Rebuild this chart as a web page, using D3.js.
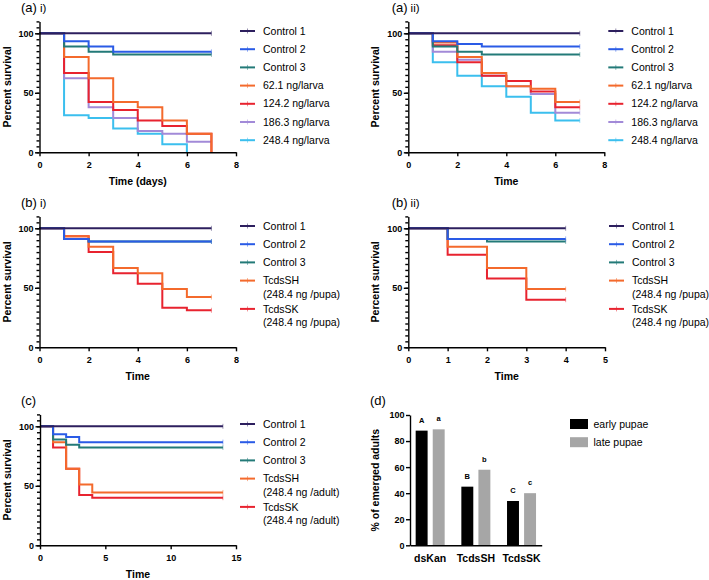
<!DOCTYPE html>
<html><head><meta charset="utf-8">
<script src="https://cdn.jsdelivr.net/npm/d3@7"></script>
<style>
body{margin:0;background:#fff}
svg{display:block}
text{font-family:"Liberation Sans",Arial,Helvetica,sans-serif;fill:#000}
</style>
</head><body>
<svg id="chart" width="709" height="580"></svg>
<script>
// ---------- DATA ----------
const larvaColors = ["#2d1f5e","#2a5be6","#237a78","#f46a2c","#e8232f","#a28ad8","#3bbfee"];
const pupaColors  = ["#2d1f5e","#2a5be6","#237a78","#f46a2c","#e8232f"];

const larvaLabels = ["Control 1","Control 2","Control 3","62.1 ng/larva","124.2 ng/larva","186.3 ng/larva","248.4 ng/larva"];
const pupaLabels  = ["Control 1","Control 2","Control 3",["TcdsSH","(248.4 ng /pupa)"],["TcdsSK","(248.4 ng /pupa)"]];
const adultLabels = ["Control 1","Control 2","Control 3",["TcdsSH","(248.4 ng /adult)"],["TcdsSK","(248.4 ng /adult)"]];

// (a) i)
const aiTimes = [0,1,2,3,4,5,6,7];
const aiControl1 = [100,100,100,100,100,100,100,100];
const aiControl2 = [100,93.3,88.9,84.4,84.4,84.4,84.4,84.4];
const aiControl3 = [100,88.9,84.4,82.2,82.2,82.2,82.2,82.2];
const ai62  = [100,80,62.2,42.2,37.8,26.7,15.6,0];
const ai124 = [100,66.7,42.2,35.6,26.7,22.2,15.6,0];
const ai186 = [100,62.2,37.8,28.9,17.8,15.6,8.9,8.9];
const ai248 = [100,31.1,28.9,20,15.6,6.7,0];

// (a) ii)
const aiiTimes = [0,1,2,3,4,5,6,7];
const aiiControl1 = [100,100,100,100,100,100,100,100];
const aiiControl2 = [100,93.3,91.1,88.9,88.9,88.9,88.9,88.9];
const aiiControl3 = [100,88.9,84.4,82.2,82.2,82.2,82.2,82.2];
const aii62  = [100,92.2,80,66.7,55.6,53.3,42.2,42.2];
const aii124 = [100,90,75.6,64.4,60,51.1,37.8,37.8];
const aii186 = [100,84.4,77.8,64.4,55.6,48.9,33.3,33.3];
const aii248 = [100,75.6,64.4,55.6,46.7,33.3,26.7,26.7];

// (b) i)
const biTimes = [0,1,2,3,4,5,6,7];
const biControl1 = [100,100,100,100,100,100,100,100];
const biControl2 = [100,91.1,88.9,88.9,88.9,88.9,88.9,88.9];
const biControl3 = [100,91.1,88.9,88.9,88.9,88.9,88.9,88.9];
const biSH = [100,93.3,84.4,66.7,62.2,48.9,42.2,42.2];
const biSK = [100,93.3,80,62.2,53.3,33.3,31.1,31.1];

// (b) ii)
const biiTimes = [0,1,2,3,4];
const biiControl1 = [100,100,100,100,100];
const biiControl2 = [100,91.1,91.1,91.1,91.1];
const biiControl3 = [100,91.1,88.9,88.9,88.9];
const biiSH = [100,84.4,66.7,48.9,48.9];
const biiSK = [100,77.8,57.8,40,40];

// (c)
const cTimes = [0,1,2,3,4,14];
const cControl1 = [100,100,100,100,100,100];
const cControl2 = [100,93.3,91.1,86.7,86.7,86.7];
const cControl3 = [100,88.9,84.4,82.2,82.2,82.2];
const cSH = [100,86.7,64.4,51.1,44.4,44.4];
const cSK = [100,82.2,64.4,42.2,40,40];

// (d)
const dCategories = ["dsKan","TcdsSH","TcdsSK"];
const dStages = ["early pupae","late pupae"];
const dEarly = [88,45,34];
const dLate  = [89,58,40];
const dEarlyLetters = ["A","B","C"];
const dLateLetters  = ["a","b","c"];
const dColors = ["#000000","#a6a6a6"];

// ---------- DRAW ----------
const svg = d3.select("#chart");
const FONT_TICK = 9, FONT_TITLE = 10.5, FONT_LEG = 10.5;

function panelLabel(x, y, main, sub){
  const t = svg.append("text").attr("x", x).attr("y", y).style("font-size","13px");
  t.append("tspan").text(main);
  if (sub) t.append("tspan").attr("dx", 3).style("font-size","11.5px").text(sub);
}

function drawKM(p){
  const g = svg.append("g");
  const x = d3.scaleLinear().domain([0, p.xMax]).range([p.left, p.right]);
  const k = (p.bottom - p.y100) / 100;
  const y = d3.scaleLinear().domain([0, 110]).range([p.bottom, p.bottom - 110 * k]);

  // series (reverse order so first series on top)
  const line = d3.line().x(d => x(d[0])).y(d => y(d[1])).curve(d3.curveStepAfter);
  for (let s = p.series.length - 1; s >= 0; s--){
    const vals = p.series[s];
    const pts = vals.map((v, i) => [p.times[i], v]);
    g.append("path").attr("d", line(pts)).attr("fill","none")
      .attr("stroke", p.colors[s]).attr("stroke-width", 2).attr("stroke-linejoin","miter");
    const last = pts[pts.length - 1];
    if (last[1] > 0){
      g.append("line").attr("x1", x(last[0])).attr("x2", x(last[0]))
        .attr("y1", y(last[1]) - 2.5).attr("y2", y(last[1]) + 2.5)
        .attr("stroke", p.colors[s]).attr("stroke-opacity", 0.45).attr("stroke-width", 1);
    }
  }

  // axes
  const yMinor = g.append("g").attr("transform", `translate(${p.left},0)`)
    .call(d3.axisLeft(y).tickValues(d3.range(0, 111, 5)).tickSize(3).tickFormat(""));
  yMinor.select(".domain").remove();
  const yAx = g.append("g").attr("transform", `translate(${p.left},0)`)
    .call(d3.axisLeft(y).tickValues([0,50,100]).tickSize(4.5).tickSizeOuter(0).tickPadding(1.5));
  const xAx = g.append("g").attr("transform", `translate(0,${p.bottom})`)
    .call(d3.axisBottom(x).tickValues(p.xTicks).tickFormat(d3.format("d")).tickSize(4).tickSizeOuter(0).tickPadding(5));
  [yMinor, yAx, xAx].forEach(a => {
    a.selectAll("path,line").attr("stroke","#000").attr("stroke-width",1.4);
    a.selectAll("text").style("font-size", FONT_TICK + "px").style("font-weight","bold")
      .style("font-family", '"Liberation Sans",Arial,sans-serif').attr("fill","#000");
  });

  // titles
  g.append("text").attr("x", (p.left + p.right) / 2).attr("y", p.bottom + 29.4)
    .attr("dy","0.35em").attr("text-anchor","middle")
    .style("font-size", FONT_TITLE + "px").style("font-weight","bold").text(p.xTitle);
  g.append("text").attr("transform", `translate(${p.left - 32.5},${(y(0) + y(110)) / 2}) rotate(-90)`)
    .attr("dy","0.35em").attr("text-anchor","middle")
    .style("font-size", FONT_TITLE + "px").style("font-weight","bold").text("Percent survival");

  // legend
  let ly = p.legendTop, prevLines = 0;
  p.labels.forEach((lab, i) => {
    const lines = Array.isArray(lab) ? lab : [lab];
    if (i > 0) ly += prevLines > 1 ? (prevLines - 1) * 13.3 + 15 : 18.2;
    const lx = p.right + 4;
    g.append("line").attr("x1", lx).attr("x2", lx + 15).attr("y1", ly).attr("y2", ly)
      .attr("stroke", p.colors[i]).attr("stroke-width", 2);
    g.append("line").attr("x1", lx + 7.5).attr("x2", lx + 7.5).attr("y1", ly - 2.5).attr("y2", ly + 2.5)
      .attr("stroke", p.colors[i]).attr("stroke-opacity", 0.5).attr("stroke-width", 1);
    lines.forEach((t, j) => {
      g.append("text").attr("x", p.right + 27).attr("y", ly + j * 13.3).attr("dy","0.35em")
        .style("font-size", FONT_LEG + "px").text(t);
    });
    prevLines = lines.length;
  });
}

drawKM({left:39.5, right:236, bottom:152.3, y100:33.3, xMax:8, xTicks:[0,2,4,6,8],
  times: aiTimes, series:[aiControl1,aiControl2,aiControl3,ai62,ai124,ai186,ai248],
  colors: larvaColors, labels: larvaLabels, legendTop:31, xTitle:"Time (days)"});
drawKM({left:408.3, right:604.3, bottom:152.3, y100:33.3, xMax:8, xTicks:[0,2,4,6,8],
  times: aiiTimes, series:[aiiControl1,aiiControl2,aiiControl3,aii62,aii124,aii186,aii248],
  colors: larvaColors, labels: larvaLabels, legendTop:31, xTitle:"Time"});
drawKM({left:39.5, right:236, bottom:347.3, y100:228.3, xMax:8, xTicks:[0,2,4,6,8],
  times: biTimes, series:[biControl1,biControl2,biControl3,biSH,biSK],
  colors: pupaColors, labels: pupaLabels, legendTop:226, xTitle:"Time"});
drawKM({left:408.3, right:605, bottom:347.3, y100:228.3, xMax:5, xTicks:[0,1,2,3,4,5],
  times: biiTimes, series:[biiControl1,biiControl2,biiControl3,biiSH,biiSK],
  colors: pupaColors, labels: pupaLabels, legendTop:226, xTitle:"Time"});
drawKM({left:40, right:236, bottom:545.3, y100:426.3, xMax:15, xTicks:[0,5,10,15],
  times: cTimes, series:[cControl1,cControl2,cControl3,cSH,cSK],
  colors: pupaColors, labels: adultLabels, legendTop:424, xTitle:"Time"});

// panel labels
panelLabel(21, 11.5, "(a)", "i)");
panelLabel(391.7, 11.5, "(a)", "ii)");
panelLabel(21, 206.5, "(b)", "i)");
panelLabel(391.7, 206.5, "(b)", "ii)");
panelLabel(21, 404.5, "(c)");
panelLabel(370, 404.5, "(d)");

// (d) bar chart
(function(){
  const g = svg.append("g");
  const left = 410, right = 541.7, bottom = 545.3, top = 415;
  const x0 = d3.scaleBand().domain(dCategories).range([left, right]).paddingInner(0.365).paddingOuter(0.124);
  const x1 = d3.scaleBand().domain(dStages).range([0, x0.bandwidth()]).paddingInner(0.3);
  const y = d3.scaleLinear().domain([0, 100]).range([bottom, top]);
  const rows = dCategories.map((c, i) => ({c, vals:[dEarly[i], dLate[i]], letters:[dEarlyLetters[i], dLateLetters[i]]}));
  rows.forEach(r => {
    dStages.forEach((s, j) => {
      const bx = x0(r.c) + x1(s);
      g.append("rect").attr("x", bx).attr("y", y(r.vals[j])).attr("width", x1.bandwidth())
        .attr("height", y(0) - y(r.vals[j])).attr("fill", dColors[j]);
      g.append("text").attr("x", bx + x1.bandwidth() / 2).attr("y", y(r.vals[j]) - 8)
        .attr("text-anchor","middle").style("font-size","7.5px").style("font-weight","bold").text(r.letters[j]);
    });
  });
  const yAx = g.append("g").attr("transform", `translate(${left},0)`)
    .call(d3.axisLeft(y).tickValues(d3.range(0, 101, 20)).tickSize(4).tickSizeOuter(0).tickPadding(1.5));
  const xAx = g.append("g").attr("transform", `translate(0,${bottom})`)
    .call(d3.axisBottom(x0).tickSize(0).tickSizeOuter(0).tickPadding(9));
  [yAx, xAx].forEach(a => {
    a.selectAll("path,line").attr("stroke","#000").attr("stroke-width",1.4);
    a.selectAll("text").style("font-weight","bold").attr("fill","#000")
      .style("font-family", '"Liberation Sans",Arial,sans-serif');
  });
  yAx.selectAll("text").style("font-size", FONT_TICK + "px");
  xAx.selectAll("text").style("font-size", "10.5px");
  g.append("text").attr("transform", `translate(375.7,${(top + bottom) / 2}) rotate(-90)`)
    .attr("dy","0.35em").attr("text-anchor","middle")
    .style("font-size", FONT_TITLE + "px").style("font-weight","bold").text("% of emerged adults");
  // legend
  dStages.forEach((s, j) => {
    const ly = 424 + j * 18.2;
    g.append("rect").attr("x", 570).attr("y", ly - 5).attr("width", 18).attr("height", 10).attr("fill", dColors[j]);
    g.append("text").attr("x", 593.5).attr("y", ly).attr("dy","0.35em").style("font-size", FONT_LEG + "px").text(s);
  });
})();
</script>
</body></html>
